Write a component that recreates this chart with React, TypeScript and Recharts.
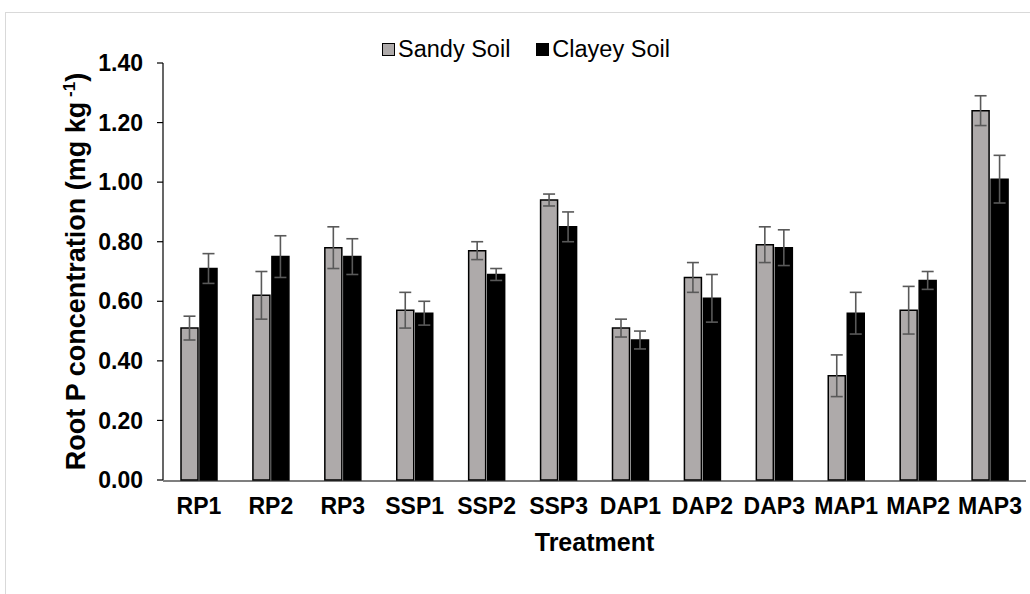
import React from 'react'
import {
  BarChart,
  Bar,
  XAxis,
  YAxis,
  ErrorBar,
  Legend,
  Label,
} from 'recharts'

const treatments = ['RP1', 'RP2', 'RP3', 'SSP1', 'SSP2', 'SSP3', 'DAP1', 'DAP2', 'DAP3', 'MAP1', 'MAP2', 'MAP3']
const sandySoil = [0.51, 0.62, 0.78, 0.57, 0.77, 0.94, 0.51, 0.68, 0.79, 0.35, 0.57, 1.24]
const sandyErr = [0.04, 0.08, 0.07, 0.06, 0.03, 0.02, 0.03, 0.05, 0.06, 0.07, 0.08, 0.05]
const clayeySoil = [0.71, 0.75, 0.75, 0.56, 0.69, 0.85, 0.47, 0.61, 0.78, 0.56, 0.67, 1.01]
const clayeyErr = [0.05, 0.07, 0.06, 0.04, 0.02, 0.05, 0.03, 0.08, 0.06, 0.07, 0.03, 0.08]
const yTicks = [0, 0.2, 0.4, 0.6, 0.8, 1.0, 1.2, 1.4]
// category boundaries for the Excel-style tick marks between groups
const edgeTicks = [0, 1, 2, 3, 4, 5, 6, 7, 8, 9, 10, 11, 12]

const series = [
  { key: 'sandy', name: 'Sandy Soil', color: '#aeaaaa' },
  { key: 'clayey', name: 'Clayey Soil', color: '#000' },
]

const data = treatments.map((treatment, i) => ({
  treatment,
  sandy: sandySoil[i],
  sandyErr: sandyErr[i],
  clayey: clayeySoil[i],
  clayeyErr: clayeyErr[i],
}))

const FONT = '"Liberation Sans", Arial, sans-serif'

const LegendContent = () => (
  <div style={{ display: 'flex', fontFamily: FONT, fontSize: 23.5, color: '#000', whiteSpace: 'nowrap' }}>
    {series.map((s, i) => (
      <div key={s.key} style={{ display: 'flex', alignItems: 'center', marginRight: i === 0 ? 26 : 0 }}>
        <span
          style={{
            display: 'inline-block',
            width: 13,
            height: 13,
            background: s.color,
            border: '1.5px solid #000',
            marginRight: 3,
            boxSizing: 'border-box',
          }}
        />
        <span>{s.name}</span>
      </div>
    ))}
  </div>
)

const YTitle = ({ viewBox }: { viewBox?: { x: number; y: number; width: number; height: number } }) => {
  if (!viewBox) return null
  const cy = viewBox.y + viewBox.height / 2
  const cx = viewBox.x + 85
  return (
    <text
      x={cx}
      y={cy}
      transform={`rotate(-90, ${cx}, ${cy})`}
      textAnchor="middle"
      fontFamily={FONT}
      fontSize={27}
      fontWeight="bold"
      fill="#000"
    >
      Root P concentration (mg kg
      <tspan fontSize={17} dy={-10}> -1</tspan>
      <tspan dy={10}>)</tspan>
    </text>
  )
}

export default function App() {
  return (
    <div style={{ position: 'fixed', left: 0, top: 0, width: 1030, height: 594, overflow: 'hidden', background: '#fff' }}>
      <div
        style={{
          position: 'absolute',
          left: 5,
          top: 12,
          width: 1060,
          height: 620,
          border: '1px solid #d9d9d9',
        }}
      />
      <div style={{ position: 'absolute', left: 0, top: 0 }}>
        <BarChart
          width={1030}
          height={594}
          data={data}
          margin={{ top: 63, right: 4, bottom: 112, left: 0 }}
          barSize={17}
          barGap={2}
        >
          <XAxis
            xAxisId="edges"
            type="number"
            domain={[0, 12]}
            ticks={edgeTicks}
            interval={0}
            allowDataOverflow
            height={1}
            tick={false}
            tickSize={6}
            axisLine={{ stroke: '#000', strokeWidth: 1.2 }}
            tickLine={{ stroke: '#000', strokeWidth: 1.2 }}
          />
          <XAxis
            xAxisId="cat"
            dataKey="treatment"
            height={1}
            interval={0}
            axisLine={false}
            tickLine={false}
            tickSize={6}
            tickMargin={12}
            tick={{ fill: '#000', fontSize: 23, fontWeight: 'bold', fontFamily: FONT }}
          >
            <Label
              value="Treatment"
              position="bottom"
              offset={52}
              style={{ fill: '#000', fontSize: 25, fontWeight: 'bold', fontFamily: FONT }}
            />
          </XAxis>
          <YAxis
            width={163}
            domain={[0, 1.4]}
            ticks={yTicks}
            interval={0}
            tickFormatter={(v: number) => v.toFixed(2)}
            tickSize={6}
            tickMargin={14}
            axisLine={{ stroke: '#000', strokeWidth: 1.2 }}
            tickLine={{ stroke: '#000', strokeWidth: 1.2 }}
            tick={{ fill: '#000', fontSize: 23, fontWeight: 'bold', fontFamily: FONT }}
            label={<YTitle />}
          />
          <Legend
            verticalAlign="middle"
            align="center"
            layout="horizontal"
            content={<LegendContent />}
            wrapperStyle={{ left: 382, top: 36, width: 'auto' }}
          />
          {series.map((s) => (
            <Bar
              key={s.key}
              xAxisId="cat"
              dataKey={s.key}
              name={s.name}
              fill={s.color}
              stroke="#000"
              strokeWidth={1.5}
              isAnimationActive={false}
            >
              <ErrorBar dataKey={`${s.key}Err`} direction="y" width={6} stroke="#595959" strokeWidth={1.6} />
            </Bar>
          ))}
        </BarChart>
      </div>
    </div>
  )
}
